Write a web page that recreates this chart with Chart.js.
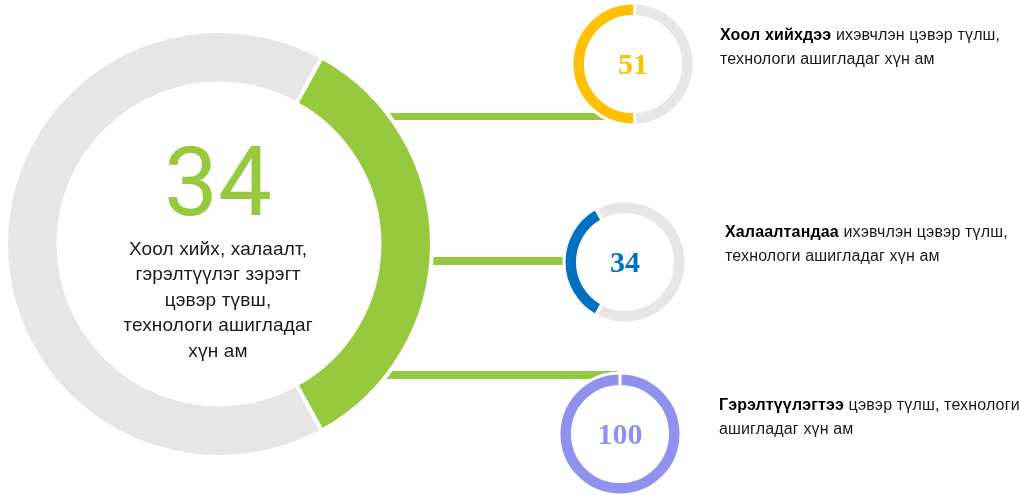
<!DOCTYPE html>
<html>
<head>
<meta charset="utf-8">
<script src="https://cdn.jsdelivr.net/npm/chart.js@4/dist/chart.umd.min.js"></script>
<style>
  html, body { margin: 0; padding: 0; background: #ffffff; }
  body { width: 1019px; height: 495px; position: relative; overflow: hidden; }
  canvas { position: absolute; z-index: 2; }
  .conn { position: absolute; background: #97C93F; z-index: 1; }
  .txt { position: absolute; z-index: 3; white-space: nowrap; color: #111; }
  #bigNum { font-family: Roboto, sans-serif; font-size: 96px; line-height: 96px; color: #97C93F; text-align: center; width: 300px; left: 68px; top: 134px; }
  #bigTxt { font-family: "Liberation Sans", Arial, sans-serif; font-size: 19px; letter-spacing: 0.15px; line-height: 25.4px; text-align: center; width: 300px; left: 68px; top: 236px; color: #1a1a1a; }
  .num { font-family: "Liberation Serif", "Times New Roman", serif; font-weight: bold; font-size: 30px; line-height: 30px; text-align: center; width: 100px; }
  .lab { font-family: "Liberation Sans", Arial, sans-serif; font-size: 16px; letter-spacing: 0.15px; line-height: 24px; color: #1a1a1a; }
  .lab b { font-weight: bold; color: #000; }
</style>
</head>
<body>
<div class="conn" style="left:370px; top:113px; width:242px; height:7px;"></div>
<div class="conn" style="left:400px; top:257px; width:170px; height:8px;"></div>
<div class="conn" style="left:370px; top:371px; width:248px; height:8px;"></div>

<canvas id="cMain" width="450" height="450" style="left:-6px; top:19px;"></canvas>
<canvas id="c1" width="130" height="130" style="left:568px; top:-1px;"></canvas>
<canvas id="c2" width="130" height="130" style="left:560px; top:197px;"></canvas>
<canvas id="c3" width="130" height="130" style="left:555px; top:369px;"></canvas>

<div id="bigNum" class="txt"></div>
<div id="bigTxt" class="txt">Хоол хийх, халаалт,<br>гэрэлтүүлэг зэрэгт<br>цэвэр түвш,<br>технологи ашигладаг<br>хүн ам</div>

<div id="n1" class="txt num" style="left:583px; top:49px; color:#FFC000;"></div>
<div id="n2" class="txt num" style="left:575px; top:247px; color:#0070C0;"></div>
<div id="n3" class="txt num" style="left:570px; top:419px; color:#9090EE;"></div>

<div id="l1" class="txt lab" style="left:720px; top:23px;"></div>
<div id="l2" class="txt lab" style="left:725px; top:220px;"></div>
<div id="l3" class="txt lab" style="left:719px; top:393px;"></div>

<script>
// ---- data ----
const mainCategories = ['Цэвэр түлш, технологи ашигладаг', 'Бусад'];
const mainValues = [34, 66];

const subCategories = ['Хоол хийхдээ', 'Халаалтандаа', 'Гэрэлтүүлэгтээ'];
const subValues = [51, 34, 100];
const subRest = ['ихэвчлэн цэвэр түлш,<br>технологи ашигладаг хүн ам',
                 'ихэвчлэн цэвэр түлш,<br>технологи ашигладаг хүн ам',
                 'цэвэр түлш, технологи<br>ашигладаг хүн ам'];

// ---- styles ----
const GREEN = '#97C93F', GRAY = '#E7E6E6';
const subColors = ['#FFC000', '#0070C0', '#9090EE'];

function ring(id, labels, values, colors, rotation, radius, cutout, bw) {
  return new Chart(document.getElementById(id), {
    type: 'doughnut',
    data: {
      labels: labels,
      datasets: [{
        data: values,
        backgroundColor: colors,
        borderColor: '#ffffff',
        borderWidth: bw,
        hoverOffset: 0
      }]
    },
    options: {
      responsive: false,
      animation: false,
      rotation: rotation,
      radius: radius,
      cutout: cutout,
      layout: { padding: 0 },
      plugins: { legend: { display: false }, tooltip: { enabled: false } },
      events: []
    }
  });
}

// main ring: green segment centred on the right side
ring('cMain', mainCategories, mainValues, [GREEN, GRAY], 90 - mainValues[0] * 1.8, 213, 168, 4);

// small rings: coloured segment centred on the left side
const rotations = [270 - subValues[0] * 1.8, 270 - subValues[1] * 1.8, 0];
subValues.forEach((v, i) => {
  ring('c' + (i + 1), [subCategories[i], 'Бусад'], [v, 100 - v], [subColors[i], GRAY], rotations[i], 61, 49.5, 3);
  document.getElementById('n' + (i + 1)).textContent = v;
  document.getElementById('l' + (i + 1)).innerHTML = '<b>' + subCategories[i] + '</b> ' + subRest[i];
});
document.getElementById('bigNum').textContent = mainValues[0];
</script>
</body>
</html>
